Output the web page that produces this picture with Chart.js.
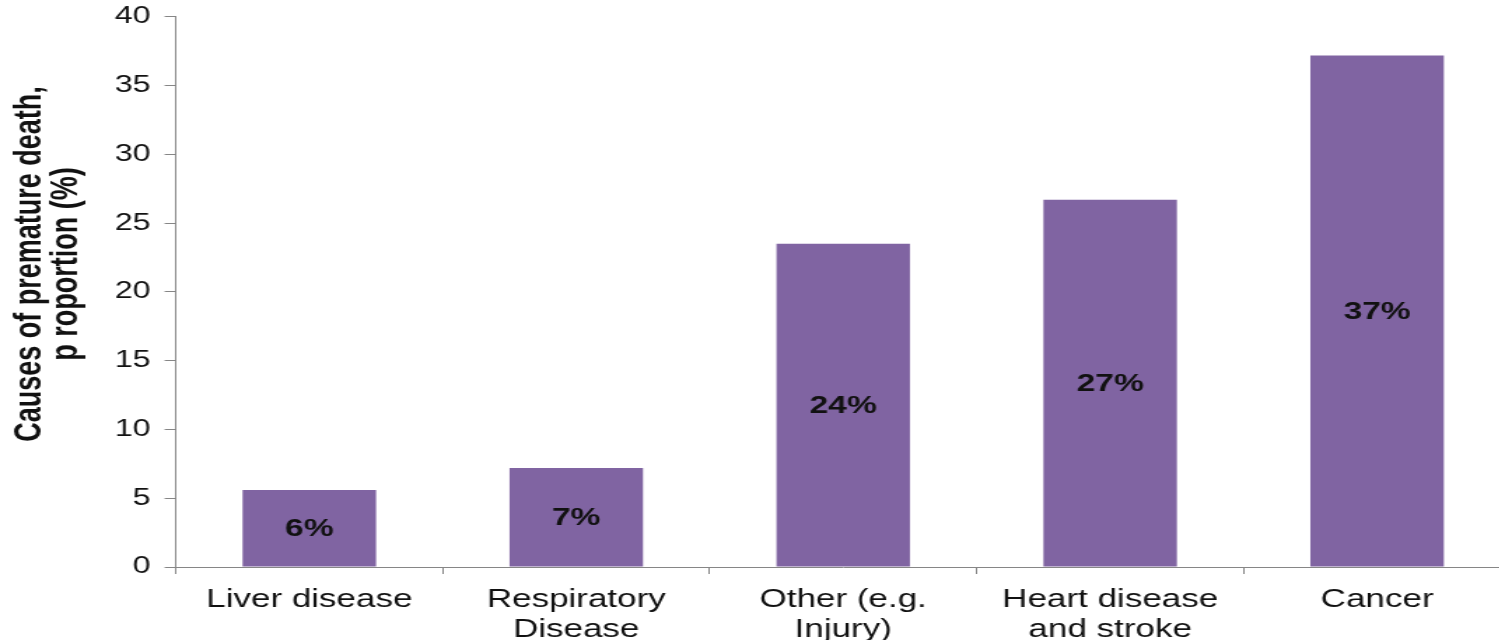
<!DOCTYPE html>
<html>
<head>
<meta charset="utf-8">
<script src="https://cdn.jsdelivr.net/npm/chart.js"></script>
<style>
  html, body {
    margin: 0;
    padding: 0;
    background: #fff;
    width: 1499px;
    height: 640px;
    overflow: hidden;
  }
  /* the source picture is stretched sideways, so the chart is drawn narrow and scaled in x */
  .stretch {
    width: 1079px;
    height: 659px;
    transform: scaleX(1.4);
    transform-origin: 0 0;
  }
</style>
</head>
<body>
<div class="stretch">
  <canvas id="causesChart" width="1079" height="659"></canvas>
</div>
<script>
// Causes of premature death - bar chart

const categories = [
  'Liver disease',
  ['Respiratory', 'Disease'],
  ['Other (e.g.', 'Injury)'],
  ['Heart disease', 'and stroke'],
  'Cancer'
];
const proportions = [5.6, 7.2, 23.5, 26.7, 37.2];
const barLabels = ['6%', '7%', '24%', '27%', '37%'];
const yTicks = [0, 5, 10, 15, 20, 25, 30, 35, 40];
const yTitle = ['Causes of premature death,', 'p roportion (%)'];

const fontFamily = "'Liberation Sans', Arial, sans-serif";
const axisGrey = '#868686';

// draws the percentage in the middle of each bar
const barLabelPlugin = {
  id: 'barLabels',
  afterDatasetsDraw(chart) {
    const ctx = chart.ctx;
    const meta = chart.getDatasetMeta(0);
    ctx.save();
    ctx.font = 'bold 24px ' + fontFamily;
    ctx.fillStyle = '#111';
    ctx.textAlign = 'center';
    ctx.textBaseline = 'middle';
    meta.data.forEach((bar, i) => {
      ctx.fillText(barLabels[i], bar.x, (bar.y + bar.base) / 2 + 1);
    });
    ctx.restore();
  }
};

// y title sits a bit above the middle of the axis in the original, so draw it by hand
const yTitlePlugin = {
  id: 'yTitle',
  afterDraw(chart) {
    const ctx = chart.ctx;
    const area = chart.chartArea;
    const cy = (area.top + area.bottom) / 2 - 28;
    const lineX = [21.5, 48];
    ctx.save();
    ctx.font = 'bold 27px ' + fontFamily;
    ctx.fillStyle = '#111';
    ctx.textAlign = 'center';
    ctx.textBaseline = 'middle';
    yTitle.forEach((line, i) => {
      ctx.save();
      ctx.translate(lineX[i], cy);
      ctx.rotate(-Math.PI / 2);
      ctx.fillText(line, 0, 0);
      ctx.restore();
    });
    ctx.restore();
  }
};

new Chart(document.getElementById('causesChart').getContext('2d'), {
  type: 'bar',
  data: {
    labels: categories,
    datasets: [{
      data: proportions,
      backgroundColor: '#8064a2',
      borderWidth: 0,
      barPercentage: 0.5,
      categoryPercentage: 1.0
    }]
  },
  options: {
    responsive: false,
    animation: false,
    devicePixelRatio: 1,
    layout: {
      padding: { top: 0, left: 72, right: 0, bottom: 3 }
    },
    plugins: {
      legend: { display: false },
      tooltip: { enabled: false }
    },
    scales: {
      x: {
        grid: {
          display: true,
          drawOnChartArea: false,
          drawTicks: true,
          tickLength: 7,
          color: axisGrey
        },
        border: { color: axisGrey, width: 1 },
        ticks: {
          color: '#111',
          padding: 11,
          maxRotation: 0,
          autoSkip: false,
          font: { family: fontFamily, size: 25, lineHeight: 1.2 }
        }
      },
      y: {
        min: 0,
        max: 40,
        afterBuildTicks(scale) {
          scale.ticks = yTicks.map(v => ({ value: v }));
        },
        grid: {
          display: true,
          drawOnChartArea: false,
          drawTicks: true,
          tickLength: 8,
          color: axisGrey
        },
        border: { color: axisGrey, width: 1 },
        ticks: {
          color: '#111',
          padding: 10,
          font: { family: fontFamily, size: 23, lineHeight: 0.6 }
        }
      }
    }
  },
  plugins: [barLabelPlugin, yTitlePlugin]
});
</script>
</body>
</html>
